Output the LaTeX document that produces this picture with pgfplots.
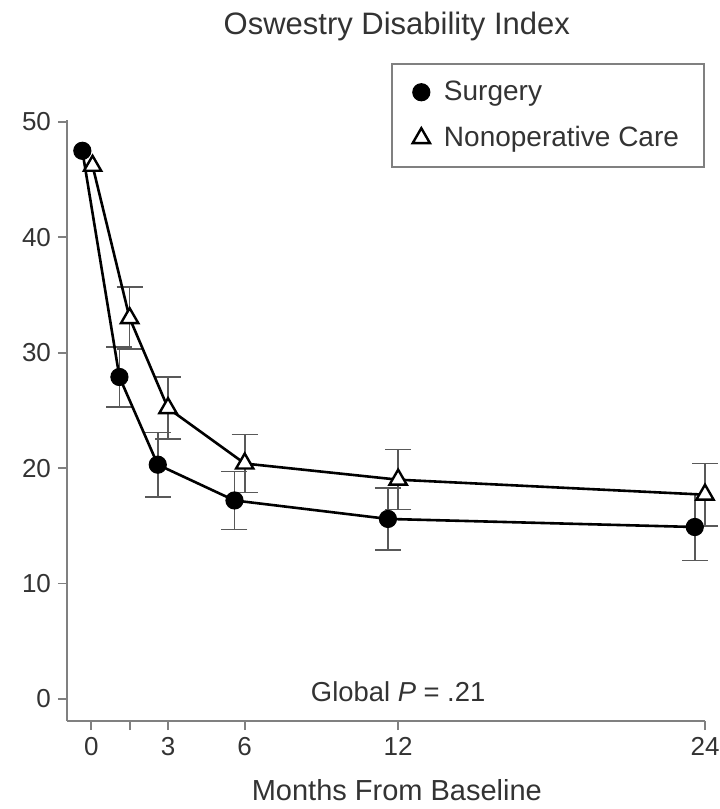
\documentclass[border=0pt]{standalone}
\usepackage{fontspec}
\setmainfont{Liberation Sans}
\usepackage{pgfplots}
\pgfplotsset{compat=1.18}
\definecolor{axisgray}{gray}{0.5}
\definecolor{errgray}{gray}{0.35}
\definecolor{txt}{gray}{0.2}

\begin{document}
\begin{tikzpicture}
\begin{axis}[
  at={(0,0)}, anchor=south west,
  scale only axis, width=319pt, height=300.5pt,
  xmin=-0.95, xmax=24, ymin=-1.91, ymax=50.17,
  axis lines*=left,
  axis line style={axisgray, line width=1.3pt},
  xtick={0,1.5,3,6,12,24}, xticklabels={0,,3,6,12,24},
  ytick={0,10,20,30,40,50},
  tick align=outside, major tick length=4.5pt,
  tick style={axisgray, line width=0.9pt},
  /pgf/number format/assume math mode=true,
  ticklabel style={font=\fontsize{13}{15}\selectfont, text=txt},
  title={Oswestry Disability Index},
  title style={at={(axis description cs:0.517,1)}, anchor=center, yshift=40.5pt,
    font=\fontsize{15.5}{18}\selectfont, text=txt},
  xlabel={Months From Baseline},
  xlabel style={at={(axis description cs:0.517,0)}, anchor=center, yshift=-34.5pt,
    font=\fontsize{14.5}{17}\selectfont, text=txt},
  clip=false,
  legend style={at={(axis description cs:1,1)}, anchor=north east, yshift=28.5pt,
    draw=axisgray, line width=1pt, font=\fontsize{14}{16}\selectfont, text=txt,
    inner xsep=10.5pt, inner ysep=6.5pt, row sep=7.5pt,
    /tikz/every odd column/.append style={column sep=5pt}},
  legend cell align=left,
  legend image code/.code={\draw[#1,only marks] plot coordinates {(0cm,0cm)};},
]
% error bars (drawn beneath the markers)
\addplot[forget plot, draw=none, mark=none,
  error bars/.cd, y dir=both, y explicit,
  error bar style={draw=errgray, line width=0.8pt},
  error mark options={rotate=90, mark size=6.5pt, draw=errgray, line width=0.8pt}]
coordinates {
  (1.1,27.9) +- (0,2.6)
  (2.6,20.3) +- (0,2.8)
  (5.6,17.2) +- (0,2.5)
  (11.6,15.6) +- (0,2.7)
  (23.6,14.9) +- (0,2.9)
};
\addplot[forget plot, draw=none, mark=none,
  error bars/.cd, y dir=both, y explicit,
  error bar style={draw=errgray, line width=0.8pt},
  error mark options={rotate=90, mark size=6.5pt, draw=errgray, line width=0.8pt}]
coordinates {
  (1.5,33.0) +- (0,2.7)
  (3,25.2) +- (0,2.7)
  (6,20.4) +- (0,2.5)
  (12,19.0) +- (0,2.6)
  (24,17.7) +- (0,2.7)
};
% Surgery
\addplot[black, line width=1.3pt, mark=*, mark size=4.3pt,
  mark options={fill=black, draw=black, line width=0.5pt}]
coordinates {(-0.35,47.5) (1.1,27.9) (2.6,20.3) (5.6,17.2) (11.6,15.6) (23.6,14.9)};
\addlegendentry{Surgery}
% Nonoperative care
\addplot[black, line width=1.3pt, mark=triangle*, mark size=5pt,
  mark options={fill=white, draw=black, line width=1.2pt}]
coordinates {(0.05,46.2) (1.5,33.0) (3,25.2) (6,20.4) (12,19.0) (24,17.7)};
\addlegendentry{Nonoperative Care}
\node[font=\fontsize{13.7}{16}\selectfont, text=txt] at (axis cs:12,0.6) {Global \textit{P} = .21};
\end{axis}
\pgfresetboundingbox
\path[use as bounding box] (-33.5pt,-44pt) rectangle (326pt,360.5pt);
\end{tikzpicture}
\end{document}
